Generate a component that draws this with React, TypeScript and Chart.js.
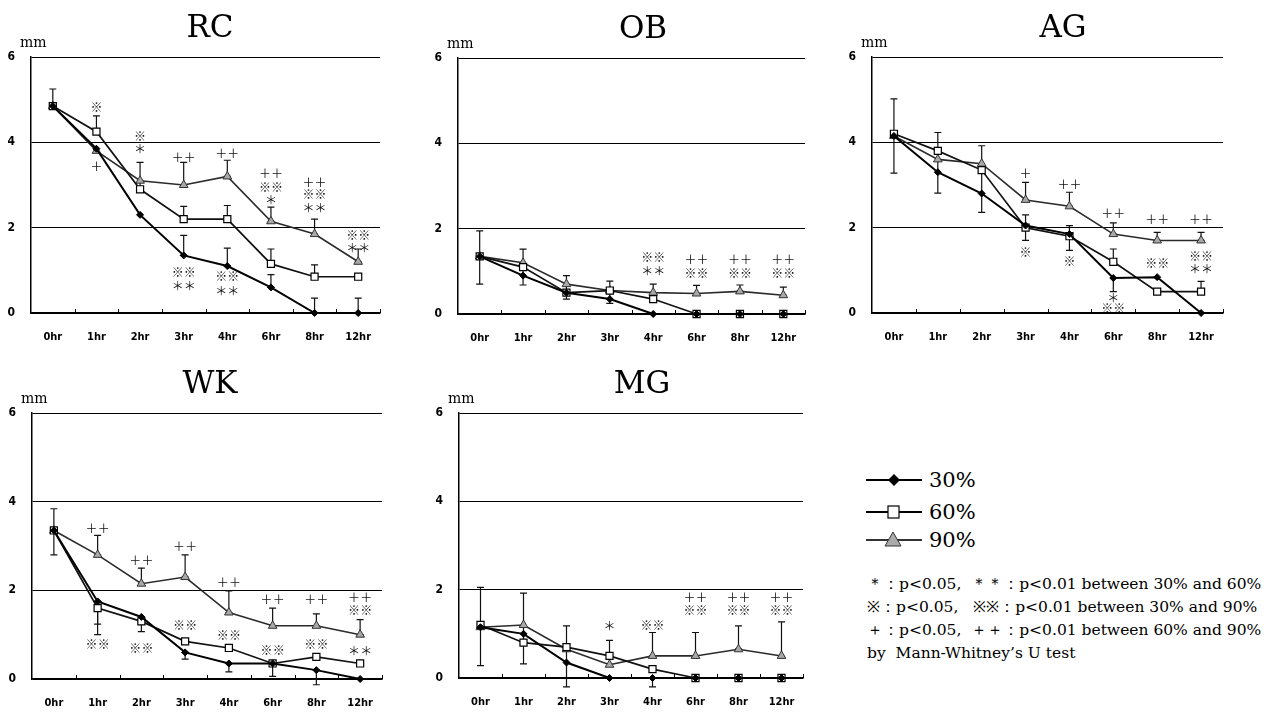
import React, { useEffect, useRef } from 'react';
import { Chart, registerables } from 'chart.js';
Chart.register(...registerables);

// ---------- data ----------
const hours = ['0hr', '1hr', '2hr', '3hr', '4hr', '6hr', '8hr', '12hr'];
const yTicks = [0, 2, 4, 6];
const seriesNames = ['30%', '60%', '90%'];

const rc30 = [4.85, 3.85, 2.3, 1.35, 1.1, 0.6, 0, 0];
const rc60 = [4.85, 4.25, 2.9, 2.2, 2.2, 1.15, 0.85, 0.85];
const rc90 = [4.85, 3.8, 3.1, 3.0, 3.2, 2.15, 1.85, 1.2];
// [hour index, low end, high end]
const rcErr = [[0, 4.85, 5.25], [1, 4.25, 4.62], [2, 2.9, 3.53], [3, 3.0, 3.53], [3, 2.2, 2.5], [3, 1.35, 1.82], [4, 3.2, 3.58], [4, 2.2, 2.52], [4, 1.1, 1.52], [5, 2.15, 2.48], [5, 1.15, 1.5], [5, 0.6, 0.9], [6, 1.85, 2.2], [6, 0.85, 1.13], [6, 0, 0.35], [7, 1.2, 1.5], [7, 0, 0.35]];
// [hour index, y value, significance mark]
const rcMarks = [[1, 4.82, '※'], [1, 3.43, '＋'], [2, 4.13, '※'], [2, 3.83, '＊'], [3, 3.65, '＋＋'], [3, 0.94, '※※'], [3, 0.62, '＊＊'], [4, 3.73, '＋＋'], [4, 0.86, '※※'], [4, 0.51, '＊＊'], [5, 3.27, '＋＋'], [5, 2.94, '※※'], [5, 2.63, '＊'], [6, 3.06, '＋＋'], [6, 2.79, '※※'], [6, 2.46, '＊＊'], [7, 1.82, '※※'], [7, 1.52, '＊＊']];

const ob30 = [1.35, 0.9, 0.5, 0.35, 0, 0, 0, 0];
const ob60 = [1.35, 1.1, 0.5, 0.55, 0.35, 0, 0, 0];
const ob90 = [1.35, 1.2, 0.7, 0.55, 0.5, 0.48, 0.53, 0.44];
const obErr = [[0, 0.7, 1.95], [1, 0.68, 1.52], [2, 0.35, 0.9], [3, 0.25, 0.77], [4, 0.5, 0.7], [5, 0.48, 0.67], [6, 0.53, 0.68], [7, 0.44, 0.63]];
const obMarks = [[4, 1.32, '※※'], [4, 1.0, '＊＊'], [5, 1.29, '＋＋'], [5, 0.96, '※※'], [6, 1.29, '＋＋'], [6, 0.96, '※※'], [7, 1.29, '＋＋'], [7, 0.96, '※※']];

const ag30 = [4.15, 3.3, 2.8, 2.05, 1.85, 0.82, 0.84, 0];
const ag60 = [4.2, 3.8, 3.35, 2.0, 1.8, 1.2, 0.5, 0.5];
const ag90 = [4.15, 3.6, 3.5, 2.65, 2.5, 1.85, 1.7, 1.7];
const agErr = [[0, 3.28, 5.02], [1, 2.81, 4.23], [2, 2.36, 3.92], [3, 2.65, 3.06], [3, 1.7, 2.3], [4, 2.5, 2.83], [4, 1.47, 2.05], [5, 1.85, 2.11], [5, 1.2, 1.5], [5, 0.5, 0.82], [6, 1.7, 1.89], [7, 1.7, 1.89], [7, 0.5, 0.74]];
const agMarks = [[3, 3.28, '＋'], [3, 1.41, '※'], [4, 3.02, '＋＋'], [4, 1.2, '※'], [5, 2.34, '＋＋'], [5, 0.35, '＊'], [5, 0.1, '※※'], [6, 2.19, '＋＋'], [6, 1.17, '※※'], [7, 2.19, '＋＋'], [7, 1.33, '※※'], [7, 1.02, '＊＊']];

const wk30 = [3.35, 1.75, 1.4, 0.6, 0.35, 0.35, 0.2, 0];
const wk60 = [3.35, 1.6, 1.3, 0.85, 0.7, 0.35, 0.5, 0.35];
const wk90 = [3.35, 2.8, 2.15, 2.3, 1.5, 1.2, 1.2, 1.0];
const wkErr = [[0, 2.8, 3.84], [1, 2.8, 3.24], [1, 1.24, 1.75], [1, 1.0, 1.6], [2, 2.15, 2.5], [2, 1.07, 1.3], [3, 2.3, 2.8], [3, 0.45, 0.6], [4, 1.5, 1.99], [4, 0.16, 0.35], [5, 1.2, 1.6], [5, 0.06, 0.35], [6, 1.2, 1.47], [6, -0.13, 0.2], [7, 1.0, 1.34]];
const wkMarks = [[1, 3.4, '＋＋'], [1, 0.77, '※※'], [2, 2.67, '＋＋'], [2, 0.68, '※※'], [3, 2.99, '＋＋'], [3, 1.2, '※※'], [4, 2.18, '＋＋'], [4, 0.98, '※※'], [5, 1.79, '＋＋'], [5, 0.64, '※※'], [6, 1.79, '＋＋'], [6, 0.77, '※※'], [7, 1.84, '＋＋'], [7, 1.55, '※※'], [7, 0.62, '＊＊']];

const mg30 = [1.15, 1.0, 0.35, 0, 0, 0, 0, 0];
const mg60 = [1.2, 0.8, 0.7, 0.5, 0.2, 0, 0, 0];
const mg90 = [1.15, 1.2, 0.65, 0.3, 0.5, 0.5, 0.65, 0.5];
const mgErr = [[0, 0.28, 2.05], [1, 0.32, 1.92], [2, -0.2, 1.18], [3, 0.5, 0.85], [4, 0.5, 1.03], [4, -0.2, 0], [5, 0.5, 1.03], [6, 0.66, 1.18], [7, 0.49, 1.27]];
const mgMarks = [[3, 1.17, '＊'], [4, 1.19, '※※'], [5, 1.82, '＋＋'], [5, 1.53, '※※'], [6, 1.82, '＋＋'], [6, 1.53, '※※'], [7, 1.82, '＋＋'], [7, 1.53, '※※']];

const noteLines = [
  '＊：p<0.05,  ＊＊：p<0.01 between 30% and 60%',
  '※：p<0.05,   ※※：p<0.01 between 30% and 90%',
  '＋：p<0.05,  ＋＋：p<0.01 between 60% and 90%',
  'by  Mann-Whitney\u2019s U test',
];

// ---------- layout ----------
const panels = [
  { title: 'RC', s: [rc30, rc60, rc90], err: rcErr, marks: rcMarks, cl: 31, ct: 57, cr: 380, cb: 313, tx: 210 },
  { title: 'OB', s: [ob30, ob60, ob90], err: obErr, marks: obMarks, cl: 458, ct: 58, cr: 805, cb: 314, tx: 643 },
  { title: 'AG', s: [ag30, ag60, ag90], err: agErr, marks: agMarks, cl: 872, ct: 57, cr: 1223, cb: 313, tx: 1063 },
  { title: 'WK', s: [wk30, wk60, wk90], err: wkErr, marks: wkMarks, cl: 32, ct: 413, cr: 382, cb: 679, tx: 210 },
  { title: 'MG', s: [mg30, mg60, mg90], err: mgErr, marks: mgMarks, cl: 459, ct: 413, cr: 803, cb: 678, tx: 642 },
];

const PAD_L = 31;
const PAD_T = 57;
const PAD_R = 12;
const PAD_B = 34;
const tickFont = '"Liberation Sans Narrow", "DejaVu Sans Condensed", "Arial Narrow", sans-serif';
const serif = '"DejaVu Serif", "Liberation Serif", serif';
const markFont = '"Noto Sans CJK JP", "Noto Sans CJK SC", sans-serif';

const seriesStyle = [
  { borderColor: '#000', borderWidth: 2, pointStyle: 'rectRot', pointRadius: 3.5, pointBackgroundColor: '#000', pointBorderColor: '#000', pointBorderWidth: 1 },
  { borderColor: '#111', borderWidth: 1.7, pointStyle: 'rect', pointRadius: 5, pointBackgroundColor: '#fff', pointBorderColor: '#000', pointBorderWidth: 1.2 },
  { borderColor: '#2a2a2a', borderWidth: 1.6, pointStyle: 'triangle', pointRadius: 5, pointBackgroundColor: '#a8a8a8', pointBorderColor: '#333', pointBorderWidth: 1 },
];

function Panel({ p }: { p: any }) {
  const ref = useRef<HTMLCanvasElement | null>(null);
  const w = p.cr - p.cl + PAD_L + PAD_R;
  const h = p.cb - p.ct + PAD_T + PAD_B;
  const left = p.cl - PAD_L;
  const top = p.ct - PAD_T;

  useEffect(() => {
    if (!ref.current) return;
    const decor = {
      id: 'decor',
      beforeDatasetsDraw(chart: any) {
        const ctx = chart.ctx;
        const xs = chart.scales.x;
        const ys = chart.scales.y;
        ctx.save();
        ctx.strokeStyle = '#111';
        ctx.lineWidth = 1.2;
        p.err.forEach((e: number[]) => {
          const x = xs.getPixelForValue(e[0]);
          const y1 = ys.getPixelForValue(e[1]);
          const y2 = ys.getPixelForValue(e[2]);
          ctx.beginPath();
          ctx.moveTo(x, y1);
          ctx.lineTo(x, y2);
          ctx.moveTo(x - 3.5, y1);
          ctx.lineTo(x + 3.5, y1);
          ctx.moveTo(x - 3.5, y2);
          ctx.lineTo(x + 3.5, y2);
          ctx.stroke();
        });
        ctx.restore();
      },
      afterDraw(chart: any) {
        const ctx = chart.ctx;
        const xs = chart.scales.x;
        const ys = chart.scales.y;
        const a = chart.chartArea;
        ctx.save();
        // boundary ticks on the x axis
        ctx.strokeStyle = '#000';
        ctx.lineWidth = 1;
        const step = (a.right - a.left) / hours.length;
        ctx.beginPath();
        for (let i = 1; i <= hours.length; i++) {
          const x = Math.round(a.left + step * i) + 0.5;
          ctx.moveTo(x, a.bottom);
          ctx.lineTo(x, a.bottom - 4);
        }
        ctx.stroke();
        // significance marks
        ctx.fillStyle = '#111';
        ctx.font = '12px ' + markFont;
        ctx.textAlign = 'center';
        ctx.textBaseline = 'middle';
        p.marks.forEach((m: any[]) => {
          ctx.fillText(m[2], xs.getPixelForValue(m[0]), ys.getPixelForValue(m[1]));
        });
        // title
        ctx.fillStyle = '#000';
        ctx.font = '31px ' + serif;
        ctx.textBaseline = 'alphabetic';
        ctx.fillText(p.title, p.tx - left, a.top - 20);
        // unit
        ctx.font = '14px ' + serif;
        ctx.textAlign = 'left';
        ctx.fillText('mm', a.left - 11, a.top - 10);
        ctx.restore();
      },
    };

    const chart = new Chart(ref.current, {
      type: 'line',
      data: {
        labels: hours,
        datasets: p.s.map((d: number[], i: number) => ({
          label: seriesNames[i],
          data: d,
          ...seriesStyle[i],
          tension: 0,
          clip: false,
        })),
      },
      options: {
        animation: false,
        responsive: false,
        maintainAspectRatio: false,
        layout: { padding: { top: PAD_T, right: PAD_R, left: 0, bottom: 0 } },
        plugins: { legend: { display: false }, tooltip: { enabled: false }, title: { display: false } },
        scales: {
          x: {
            offset: true,
            grid: { display: false, drawTicks: false },
            border: { display: true, color: '#000', width: 1.5 },
            ticks: { color: '#000', font: { family: tickFont, size: 11, weight: 'bold' }, padding: 18, maxRotation: 0, autoSkip: false },
            afterFit: (s: any) => { s.height = PAD_B; },
          },
          y: {
            min: 0,
            max: 6,
            afterBuildTicks: (s: any) => { s.ticks = yTicks.map((v) => ({ value: v })); },
            grid: { color: '#000', lineWidth: 1, drawTicks: false },
            border: { display: true, color: '#000', width: 1.5 },
            ticks: { color: '#000', font: { family: tickFont, size: 12, weight: 'bold' }, padding: 16 },
            afterFit: (s: any) => { s.width = PAD_L; },
          },
        },
      } as any,
      plugins: [decor],
    });
    return () => chart.destroy();
  }, []);

  return (
    <canvas
      ref={ref}
      width={w}
      height={h}
      style={{ position: 'absolute', left, top, width: w, height: h, display: 'block' }}
    />
  );
}

function LegendIcon({ kind }: { kind: number }) {
  return (
    <svg width={60} height={20} style={{ display: 'block' }}>
      <line x1={2} y1={10} x2={58} y2={10} stroke={kind === 2 ? '#333' : '#000'} strokeWidth={kind === 0 ? 2.2 : 1.8} />
      {kind === 0 && <polygon points="30,4 36,10 30,16 24,10" fill="#000" />}
      {kind === 1 && <rect x={24} y={4} width={11} height={12} fill="#fff" stroke="#000" strokeWidth={1.2} />}
      {kind === 2 && <polygon points="29,2 37,16 21,16" fill="#aaa" stroke="#333" strokeWidth={1} />}
    </svg>
  );
}

export default function App() {
  const rowsY = [480, 512, 540];
  const noteY = [584, 607, 630, 653];
  return (
    <div style={{ position: 'fixed', left: 0, top: 0, width: 1288, height: 713, background: '#fff', overflow: 'hidden' }}>
      {panels.map((p) => <Panel key={p.title} p={p} />)}
      {seriesNames.map((n, i) => (
        <div key={n} style={{ position: 'absolute', left: 864, top: rowsY[i] - 13, height: 26, display: 'flex', alignItems: 'center' }}>
          <LegendIcon kind={i} />
          <span style={{ fontFamily: serif, fontSize: 21, lineHeight: '26px', marginLeft: 5, color: '#000' }}>{n}</span>
        </div>
      ))}
      {noteLines.map((t, i) => (
        <div key={i} style={{ position: 'absolute', left: 867, top: noteY[i] - 10, height: 20, lineHeight: '20px', fontFamily: serif, fontSize: 15.5, color: '#000', whiteSpace: 'pre' }}>{t}</div>
      ))}
    </div>
  );
}
